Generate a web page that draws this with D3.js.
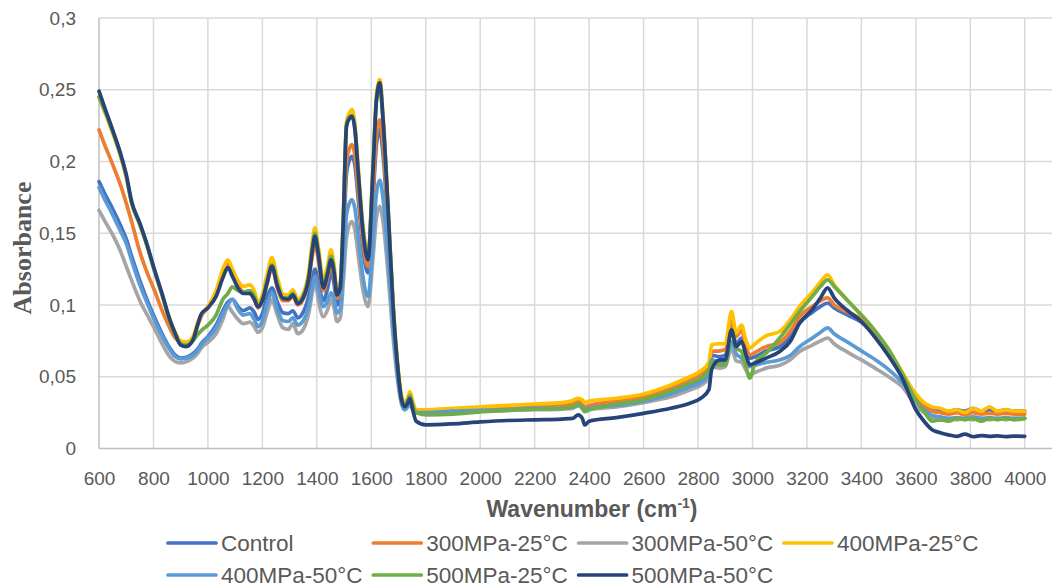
<!DOCTYPE html>
<html><head><meta charset="utf-8">
<script src="https://cdn.jsdelivr.net/npm/d3@7"></script>
<style>html,body{margin:0;padding:0;background:#fff;}svg{display:block;}</style>
</head><body>
<svg id="chart" width="1054" height="588"></svg>
<script>
const wavenumbers = [
 600,620,650,680,700,720,750,780,800,830,
 860,880,900,920,945,965,975,1000,1030,1055,
 1073,1090,1110,1130,1154,1170,1184,1200,1218,1235,
 1255,1276,1295,1312,1330,1350,1370,1385,1393,1405,
 1424,1440,1452,1463,1474,1486,1497,1509,1520,1529,
 1540,1552,1570,1588,1606,1619,1631,1644,1661,1680,
 1699,1711,1723,1735,1742,1752,1765,1800,1900,2000,
 2100,2200,2300,2340,2360,2375,2384,2400,2500,2600,
 2700,2770,2810,2840,2850,2880,2900,2923,2940,2960,
 2975,2990,3010,3050,3100,3140,3173,3220,3250,3276,
 3300,3350,3400,3450,3500,3550,3600,3630,3660,3690,
 3720,3750,3780,3810,3840,3870,3900,3930,3960,4000];

const control = [
 .186,.178,.167,.155,.146,.134,.117,.102,.093,.0806,
 .070,.065,.063,.0635,.066,.070,.073,.078,.086,.096,
 .102,.104,.099,.096,.098,.095,.090,.094,.106,.112,
 .102,.0945,.094,.096,.091,.095,.106,.120,.125,.116,
 .103,.112,.1224,.115,.100,.104,.140,.192,.201,.2036,
 .197,.174,.138,.1224,.172,.212,.222,.203,.155,.093,
 .050,.033,.028,.031,.034,.029,.025,.025,.0255,.026,
 .027,.0275,.028,.029,.030,.029,.027,.028,.031,.034,
 .039,.044,.048,.053,.065,.064,.065,.084,.073,.077,
 .069,.063,.064,.068,.071,.078,.0874,.095,.099,.1014,
 .098,.093,.088,.079,.067,.052,.037,.031,.028,.027,
 .026,.027,.026,.028,.026,.027,.026,.027,.026,.026];

const mpa300_25 = [
 .222,.212,.198,.183,.171,.158,.137,.121,.112,.097,
 .084,.077,.0745,.074,.077,.087,.092,.098,.108,.122,
 .129,.122,.114,.109,.108,.104,.098,.103,.115,.126,
 .112,.103,.103,.106,.100,.104,.116,.136,.143,.132,
 .110,.119,.128,.120,.105,.109,.148,.200,.209,.2117,
 .204,.180,.143,.1268,.178,.219,.229,.210,.160,.095,
 .051,.034,.029,.033,.036,.030,.026,.026,.027,.028,
 .029,.030,.0305,.031,.033,.031,.029,.030,.033,.036,
 .042,.0478,.052,.058,.0676,.068,.069,.0885,.078,.0827,
 .072,.065,.067,.071,.0736,.082,.092,.099,.103,.105,
 .100,.095,.090,.080,.068,.053,.036,.029,.026,.025,
 .024,.025,.0235,.025,.024,.0245,.024,.0245,.024,.024];

const mpa300_50 = [
 .166,.159,.149,.137,.127,.117,.103,.092,.085,.0736,
 .064,.0605,.0596,.0605,.063,.067,.070,.074,.080,.090,
 .0988,.095,.090,.087,.088,.085,.081,.084,.095,.1036,
 .093,.084,.083,.087,.080,.083,.094,.110,.117,.104,
 .0918,.097,.1036,.098,.0885,.091,.115,.147,.156,.1582,
 .152,.135,.110,.0989,.132,.161,.1687,.157,.123,.078,
 .044,.031,.027,.029,.031,.027,.025,.0245,.025,.026,
 .0265,.027,.0275,.028,.030,.028,.026,.027,.029,.032,
 .036,.0408,.044,.049,.057,.056,.057,.070,.061,.060,
 .055,.0513,.053,.056,.058,.062,.0676,.072,.075,.077,
 .073,.067,.0617,.056,.050,.043,.030,.025,.021,.020,
 .021,.020,.021,.020,.021,.020,.021,.020,.021,.021];

const mpa400_25 = [
 .245,.235,.220,.203,.189,.171,.156,.139,.126,.108,
 .090,.081,.075,.074,.078,.089,.093,.099,.110,.125,
 .1315,.125,.117,.113,.114,.110,.102,.107,.122,.133,
 .119,.1075,.107,.1106,.104,.108,.123,.146,.1538,.141,
 .1176,.128,.1385,.128,.1106,.116,.160,.228,.234,.2362,
 .226,.196,.154,.135,.196,.246,.257,.230,.172,.102,
 .055,.037,.032,.036,.0396,.033,.027,.027,.028,.029,
 .030,.031,.032,.0335,.035,.034,.032,.033,.035,.038,
 .0443,.050,.054,.060,.0722,.073,.073,.0955,.0805,.086,
 .076,.070,.073,.0785,.0815,.090,.099,.109,.116,.121,
 .114,.103,.093,.082,.069,.053,.038,.032,.029,.028,
 .026,.027,.025,.028,.026,.029,.026,.027,.026,.026];

const mpa400_50 = [
 .182,.174,.163,.151,.143,.131,.114,.100,.091,.079,
 .069,.064,.0625,.063,.065,.069,.072,.077,.084,.094,
 .100,.104,.097,.093,.094,.090,.085,.089,.101,.1085,
 .097,.089,.0885,.091,.086,.089,.099,.114,.120,.111,
 .0988,.103,.1085,.104,.0945,.097,.125,.163,.171,.1734,
 .167,.148,.119,.106,.144,.178,.187,.173,.135,.085,
 .047,.032,.027,.030,.033,.028,.025,.025,.026,.0265,
 .027,.028,.028,.029,.030,.029,.027,.028,.030,.033,
 .038,.043,.046,.052,.0617,.060,.060,.0745,.066,.063,
 .060,.057,.058,.060,.0617,.065,.071,.077,.081,.084,
 .080,.074,.068,.062,.055,.046,.033,.027,.023,.022,
 .021,.0215,.021,.022,.021,.0215,.021,.0215,.021,.021];

const mpa500_25 = [
 .245,.236,.221,.204,.190,.171,.156,.139,.126,.108,
 .089,.079,.073,.072,.075,.080,.082,.086,.093,.104,
 .108,.1127,.110,.109,.110,.106,.099,.104,.117,.128,
 .115,.105,.105,.108,.102,.106,.120,.142,.150,.138,
 .114,.124,.134,.125,.108,.113,.158,.225,.231,.232,
 .223,.193,.152,.134,.194,.242,.252,.226,.169,.100,
 .053,.035,.030,.034,.037,.030,.025,.0235,.024,.0255,
 .0265,.0275,.028,.029,.031,.028,.0257,.027,.031,.034,
 .040,.0456,.049,.055,.0606,.058,.058,.0827,.070,.0676,
 .058,.049,.060,.0665,.077,.087,.0955,.106,.113,.1176,
 .113,.103,.093,.082,.069,.052,.034,.026,.019,.020,
 .019,.021,.020,.021,.019,.021,.020,.021,.020,.021];

const mpa500_50 = [
 .249,.238,.222,.205,.191,.172,.157,.140,.127,.109,
 .090,.080,.072,.071,.0757,.088,.0935,.098,.106,.119,
 .126,.120,.112,.108,.108,.104,.0988,.103,.116,.127,
 .113,.1045,.104,.107,.101,.105,.118,.140,.1478,.136,
 .112,.122,.1315,.123,.107,.112,.157,.2245,.230,.2315,
 .222,.192,.150,.1315,.192,.243,.2548,.227,.169,.099,
 .0526,.034,.029,.032,.035,.027,.019,.0165,.0172,.0185,
 .0195,.020,.0205,.021,.0235,.021,.0164,.019,.0215,.0245,
 .028,.0315,.035,.041,.055,.0617,.0617,.0827,.071,.0745,
 .066,.0583,.0596,.063,.0676,.075,.0874,.097,.105,.112,
 .105,.096,.0885,.0775,.0645,.049,.027,.019,.013,.011,
 .0095,.0085,.010,.0082,.009,.0085,.0088,.0083,.0086,.0085];

const seriesNames = ["Control","300MPa-25°C","300MPa-50°C","400MPa-25°C","400MPa-50°C","500MPa-25°C","500MPa-50°C"];
const seriesValues = [control, mpa300_25, mpa300_50, mpa400_25, mpa400_50, mpa500_25, mpa500_50];
const seriesColors = ["#4472C4","#ED7D31","#A5A5A5","#FFC000","#5B9BD5","#70AD47","#264478"];
const xTicks = d3.range(600, 4001, 200);
const yTicks = [0, 0.05, 0.1, 0.15, 0.2, 0.25, 0.3];
const yTickLabels = ["0","0,05","0,1","0,15","0,2","0,25","0,3"];

seriesValues.forEach((s,i)=>{ if (s.length !== wavenumbers.length) throw new Error("length mismatch " + seriesNames[i] + " " + s.length); });

const svg = d3.select("#chart");
const L = 99, R = 1052, T = 18, B = 448.5;
const x = d3.scaleLinear().domain([600, 4100]).range([L, R]);
const y = d3.scaleLinear().domain([0, 0.3]).range([B, T]);

const font = "'Liberation Sans', Arial, sans-serif";
const textColor = "#595959";

// gridlines
svg.append("g").selectAll("line").data(yTicks.filter(d=>d>0)).join("line")
  .attr("x1", L).attr("x2", R).attr("y1", d=>y(d)).attr("y2", d=>y(d))
  .attr("stroke", "#d9d9d9").attr("stroke-width", 1.5);
svg.append("g").selectAll("line").data(xTicks.filter(d=>d>600)).join("line")
  .attr("x1", d=>x(d)).attr("x2", d=>x(d)).attr("y1", T).attr("y2", B)
  .attr("stroke", "#d9d9d9").attr("stroke-width", 1.5);

// axes lines
svg.append("line").attr("x1", L).attr("x2", L).attr("y1", T).attr("y2", B).attr("stroke", "#bfbfbf").attr("stroke-width", 1.5);
svg.append("line").attr("x1", L).attr("x2", R).attr("y1", B).attr("y2", B).attr("stroke", "#bfbfbf").attr("stroke-width", 1.5);

// tick labels
const yAxis = d3.axisLeft(y).tickValues(yTicks).tickFormat((d,i)=>yTickLabels[i]).tickSize(0).tickPadding(23);
const gy = svg.append("g").attr("transform", `translate(${L},0)`).call(yAxis);
gy.select(".domain").remove();
gy.selectAll("text").attr("font-family", font).attr("font-size", 19).attr("fill", textColor);

const xAxis = d3.axisBottom(x).tickValues(xTicks).tickFormat(d3.format("d")).tickSize(0).tickPadding(23);
const gx = svg.append("g").attr("transform", `translate(0,${B})`).call(xAxis);
gx.select(".domain").remove();
gx.selectAll("text").attr("font-family", font).attr("font-size", 19).attr("fill", textColor);

// lines
const line = d3.line().x((d,i)=>x(wavenumbers[i])).y(d=>y(d)).curve(d3.curveMonotoneX);
svg.append("g").selectAll("path").data(seriesValues).join("path")
  .attr("d", d=>line(d)).attr("fill", "none")
  .attr("stroke", (d,i)=>seriesColors[i]).attr("stroke-width", 3.7)
  .attr("stroke-linejoin", "round").attr("stroke-linecap", "round");

// axis titles
const xt = svg.append("text").attr("x", 592).attr("y", 517).attr("text-anchor", "middle")
  .attr("font-family", font).attr("font-weight", "bold").attr("font-size", 23).attr("fill", textColor);
xt.append("tspan").text("Wavenumber (cm");
xt.append("tspan").attr("font-size", 14).attr("dy", -9).text("-1");
xt.append("tspan").attr("dy", 9).text(")");

svg.append("text").attr("transform", "translate(31,248) rotate(-90)").attr("text-anchor", "middle")
  .attr("font-family", "'Liberation Serif', 'Times New Roman', serif").attr("font-weight", "bold")
  .attr("font-size", 26).attr("fill", textColor).text("Absorbance");

// legend
const legend = svg.append("g");
seriesNames.forEach((name, i) => {
  const col = i % 4, row = Math.floor(i / 4);
  const lx = 168 + col * 205.3, ly = 543 + row * 32;
  legend.append("line").attr("x1", lx).attr("x2", lx + 48).attr("y1", ly).attr("y2", ly)
    .attr("stroke", seriesColors[i]).attr("stroke-width", 3.7).attr("stroke-linecap", "round");
  legend.append("text").attr("x", lx + 53).attr("y", ly).attr("dy", "0.35em")
    .attr("font-family", font).attr("font-size", 22.5).attr("fill", textColor).text(name);
});
</script>
</body></html>
